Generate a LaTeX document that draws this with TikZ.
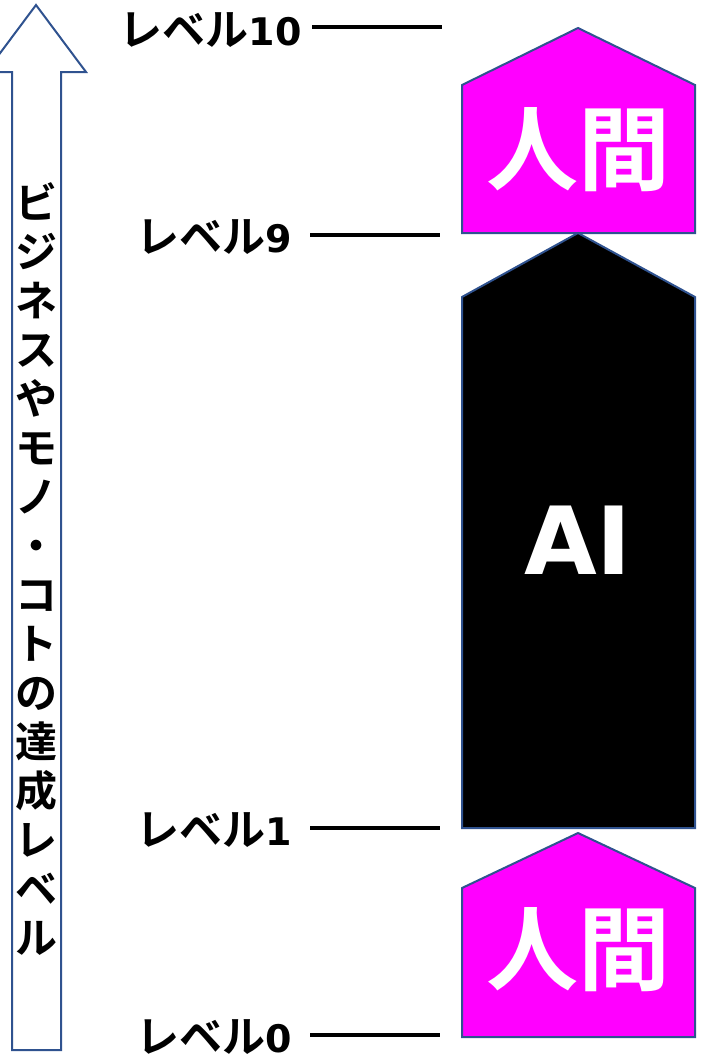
\documentclass[tikz,border=0pt]{standalone}
\usepackage{fontspec}
\setmainfont{Noto Sans CJK JP}[BoldFont={Noto Sans CJK JP Bold}]
\newfontfamily\dvs{DejaVu Sans}
\begin{document}
\begin{tikzpicture}[x=1pt,y=-1pt,
  outl/.style={draw={rgb,255:red,47;green,82;blue,143},line width=2pt,line join=miter},
  lvl/.style={font=\bfseries\fontsize{43}{43}\selectfont,anchor=east,inner sep=0pt},
  lvline/.style={line width=4.5pt},
  big/.style={font=\bfseries\fontsize{92}{92}\selectfont,text=white,inner sep=0pt}]
\useasboundingbox (0,0) rectangle (702,1060);
\clip (0,0) rectangle (702,1060);
% vertical arrow
\draw[outl,fill=white] (12,1050) -- (12,72) -- (-14,72) -- (36,5) -- (86,72) -- (61,72) -- (61,1050) -- cycle;
\node[font=\bfseries\fontsize{42}{49}\selectfont,align=center,inner sep=0pt,anchor=north] (vt) at (36,182)
  {ビ\\ジ\\ネ\\ス\\や\\モ\\ノ\\・\\コ\\ト\\の\\達\\成\\レ\\ベ\\ル};
% shapes
\draw[outl,fill={rgb,255:red,255;green,0;blue,255}] (462,233) -- (462,85) -- (578,28) -- (695,85) -- (695,233) -- cycle;
\draw[outl,fill=black] (462,828) -- (462,297) -- (578,233) -- (695,297) -- (695,828) -- cycle;
\draw[outl,fill={rgb,255:red,255;green,0;blue,255}] (462,1037) -- (462,888) -- (578,833) -- (695,888) -- (695,1037) -- cycle;
\node[big] (h1) at (578,150) {人間};
\node[big,font=\dvs\bfseries\fontsize{94}{94}\selectfont] (ai) at (578,540) {AI};
\node[big] (h0) at (578,950) {人間};
% level labels
\node[lvl] (L10) at (302,30) {レベル{\dvs\bfseries\fontsize{38}{38}\selectfont 10}};
\node[lvl] (L9) at (292,237) {レベル{\dvs\bfseries\fontsize{38}{38}\selectfont 9}};
\node[lvl] (L1) at (292,830) {レベル{\dvs\bfseries\fontsize{38}{38}\selectfont 1}};
\node[lvl] (L0) at (292,1037) {レベル{\dvs\bfseries\fontsize{38}{38}\selectfont 0}};
\coordinate (a10) at (312,27); \coordinate (b10) at (442,27);
\coordinate (a9) at (310,235); \coordinate (b9) at (440,235);
\coordinate (a1) at (310,828); \coordinate (b1) at (440,828);
\coordinate (a0) at (310,1035); \coordinate (b0) at (440,1035);
\draw[lvline] (a10) -- (b10);
\draw[lvline] (a9) -- (b9);
\draw[lvline] (a1) -- (b1);
\draw[lvline] (a0) -- (b0);
\end{tikzpicture}
\end{document}
